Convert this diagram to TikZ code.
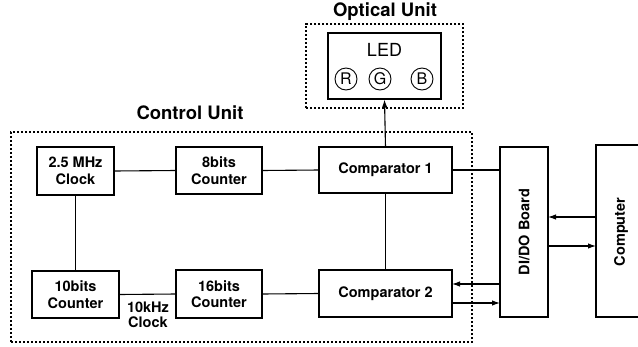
\documentclass[tikz,border=0pt]{standalone}
\usepackage{fontspec}
\setmainfont{TeX Gyre Heros}
\usetikzlibrary{arrows.meta}
\begin{document}
\begin{tikzpicture}[x=1pt,y=-1pt,
  blk/.style={draw,line width=1.1pt,font=\fontsize{14.5}{16.5}\selectfont\bfseries,align=center,inner sep=0pt,outer sep=0pt},
  unit/.style={draw,line width=1.3pt,dash pattern=on 2.2pt off 1.8pt,inner sep=0pt},
  ttl/.style={font=\fontsize{18.5}{20}\selectfont\bfseries},
  con/.style={line width=1.1pt},
  arr/.style={line width=1.1pt,-{Latex[length=8pt,width=5.5pt]}},
  led/.style={draw,circle,line width=0.9pt,minimum size=22pt,inner sep=0pt,font=\fontsize{16}{18}\selectfont}]
\useasboundingbox (0,0) rectangle (638,346);
\clip (0,0) rectangle (638,346);
% unit frames
\node[unit,minimum width=157pt,minimum height=84pt] (ou) at (384.5,66) {};
\node[ttl] (out) at (385,12) {Optical Unit};
\node[unit,minimum width=461pt,minimum height=210pt] (cu) at (241.5,237) {};
\node[ttl] (cut) at (190,113) {Control Unit};
% LED
\node[draw,line width=1.1pt,minimum width=113pt,minimum height=66pt,inner sep=0pt] (led) at (384.5,66) {};
\node[font=\fontsize{18}{20}\selectfont] (ledt) at (384.5,50) {LED};
\node[led] (r) at (346,79) {R};
\node[led] (g) at (380,79) {G};
\node[led] (b) at (422,79) {B};
% blocks
\node[blk,minimum width=77pt,minimum height=48pt] (clk) at (75.5,171) {2.5 MHz\\Clock};
\node[blk,minimum width=86pt,minimum height=47pt] (c8) at (219,170.5) {8bits\\Counter};
\node[blk,minimum width=133pt,minimum height=46pt] (cp1) at (385.5,170) {Comparator 1};
\node[blk,minimum width=87pt,minimum height=47pt] (c10) at (75.5,294.5) {10bits\\Counter};
\node[blk,minimum width=86pt,minimum height=48pt] (c16) at (219,294) {16bits\\Counter};
\node[blk,minimum width=133pt,minimum height=47pt] (cp2) at (385.5,293.5) {Comparator 2};
\node[blk,minimum width=48pt,minimum height=170pt] (dio) at (524,232) {\rotatebox{90}{DI/DO Board}};
\node[blk,minimum width=64pt,minimum height=172pt] (pc) at (628,231) {};
\node[font=\fontsize{14.5}{16.5}\selectfont\bfseries] (pct) at (621,232) {\rotatebox{90}{Computer}};
\node[font=\fontsize{14.5}{15}\selectfont\bfseries,align=center] (k10) at (148,315) {10kHz\\Clock};
% connectors
\draw[con] (clk.east) -- (c8.west);
\draw[con] (c8.east) -- (cp1.west);
\draw[con] (clk.south) -- (c10.north);
\draw[con] (c10.east) -- (c16.west);
\draw[con] (c16.east) -- (cp2.west);
\draw[con] (cp1.south) -- (cp2.north);
\draw[arr] (cp1.north) -- (led.south);
\draw[con] (cp1.east) -- (cp1.east -| dio.west);
\draw[arr] (dio.west |- 0,284) -- (cp2.east |- 0,284);
\draw[arr] (cp2.east |- 0,303) -- (dio.west |- 0,303);
\draw[arr] (pc.west |- 0,217) -- (dio.east |- 0,217);
\draw[arr] (dio.east |- 0,246) -- (pc.west |- 0,246);
\end{tikzpicture}
\end{document}
